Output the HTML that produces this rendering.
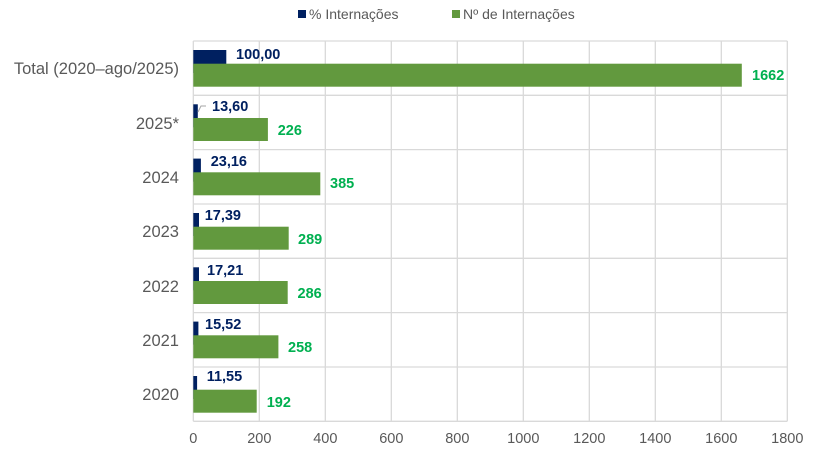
<!DOCTYPE html>
<html><head><meta charset="utf-8"><style>
html,body{margin:0;padding:0;background:#fff;}
svg{display:block;font-family:"Liberation Sans",Arial,sans-serif;}
</style></head><body>
<svg width="815" height="457" viewBox="0 0 815 457">
<g stroke="#d9d9d9" stroke-width="1.3" fill="none">
<line x1="193.3" y1="41" x2="193.3" y2="421.3"/>
<line x1="259.3" y1="41" x2="259.3" y2="421.3"/>
<line x1="325.3" y1="41" x2="325.3" y2="421.3"/>
<line x1="391.3" y1="41" x2="391.3" y2="421.3"/>
<line x1="457.3" y1="41" x2="457.3" y2="421.3"/>
<line x1="523.3" y1="41" x2="523.3" y2="421.3"/>
<line x1="589.3" y1="41" x2="589.3" y2="421.3"/>
<line x1="655.3" y1="41" x2="655.3" y2="421.3"/>
<line x1="721.3" y1="41" x2="721.3" y2="421.3"/>
<line x1="787.3" y1="41" x2="787.3" y2="421.3"/>
<line x1="193.3" y1="41" x2="787.3" y2="41"/>
<line x1="193.3" y1="95.3" x2="787.3" y2="95.3"/>
<line x1="193.3" y1="149.6" x2="787.3" y2="149.6"/>
<line x1="193.3" y1="204" x2="787.3" y2="204"/>
<line x1="193.3" y1="258.3" x2="787.3" y2="258.3"/>
<line x1="193.3" y1="312.6" x2="787.3" y2="312.6"/>
<line x1="193.3" y1="367" x2="787.3" y2="367"/>
<line x1="193.3" y1="421.3" x2="787.3" y2="421.3"/>
</g>
<g fill="#002060">
<rect x="193.3" y="50" width="33" height="23"/>
<rect x="193.3" y="104.3" width="4.5" height="23"/>
<rect x="193.3" y="158.6" width="7.6" height="23"/>
<rect x="193.3" y="213" width="5.7" height="23"/>
<rect x="193.3" y="267.3" width="5.7" height="23"/>
<rect x="193.3" y="321.6" width="5.1" height="23"/>
<rect x="193.3" y="376" width="3.8" height="23"/>
</g>
<g fill="#62993e">
<rect x="193.3" y="63.7" width="548.5" height="23"/>
<rect x="193.3" y="118" width="74.6" height="23"/>
<rect x="193.3" y="172.3" width="127" height="23"/>
<rect x="193.3" y="226.7" width="95.4" height="23"/>
<rect x="193.3" y="281" width="94.4" height="23"/>
<rect x="193.3" y="335.3" width="85.1" height="23"/>
<rect x="193.3" y="389.7" width="63.4" height="23"/>
</g>
<polyline points="198,112 201,106 206,106" fill="none" stroke="#a6a6a6" stroke-width="1"/>
<g fill="#002060" font-weight="bold" font-size="14.5">
<text x="236" y="59">100,00</text>
<text x="212" y="111">13,60</text>
<text x="210.7" y="166">23,16</text>
<text x="204.7" y="220">17,39</text>
<text x="207" y="275">17,21</text>
<text x="205" y="329">15,52</text>
<text x="206.7" y="381">11,55</text>
</g>
<g fill="#00b050" font-weight="bold" font-size="14.5">
<text x="752" y="80">1662</text>
<text x="277.7" y="135">226</text>
<text x="330" y="188">385</text>
<text x="298" y="244">289</text>
<text x="297.5" y="298">286</text>
<text x="288" y="352">258</text>
<text x="266.7" y="407">192</text>
</g>
<g fill="#595959" font-size="16.5" text-anchor="end">
<text x="179" y="74">Total (2020–ago/2025)</text>
<text x="179" y="129">2025*</text>
<text x="179" y="183">2024</text>
<text x="179" y="237">2023</text>
<text x="179" y="292">2022</text>
<text x="179" y="346">2021</text>
<text x="179" y="400">2020</text>
</g>
<g fill="#595959" font-size="14.5" text-anchor="middle">
<text x="193.3" y="443">0</text>
<text x="259.3" y="443">200</text>
<text x="325.3" y="443">400</text>
<text x="391.3" y="443">600</text>
<text x="457.3" y="443">800</text>
<text x="523.3" y="443">1000</text>
<text x="589.3" y="443">1200</text>
<text x="655.3" y="443">1400</text>
<text x="721.3" y="443">1600</text>
<text x="787.3" y="443">1800</text>
</g>
<rect x="298" y="10" width="8" height="8" fill="#002060"/>
<text x="309" y="19" fill="#595959" font-size="14">% Internações</text>
<rect x="452" y="10" width="8" height="8" fill="#62993e"/>
<text x="463" y="19" fill="#595959" font-size="14">Nº de Internações</text>
</svg>
</body></html>
